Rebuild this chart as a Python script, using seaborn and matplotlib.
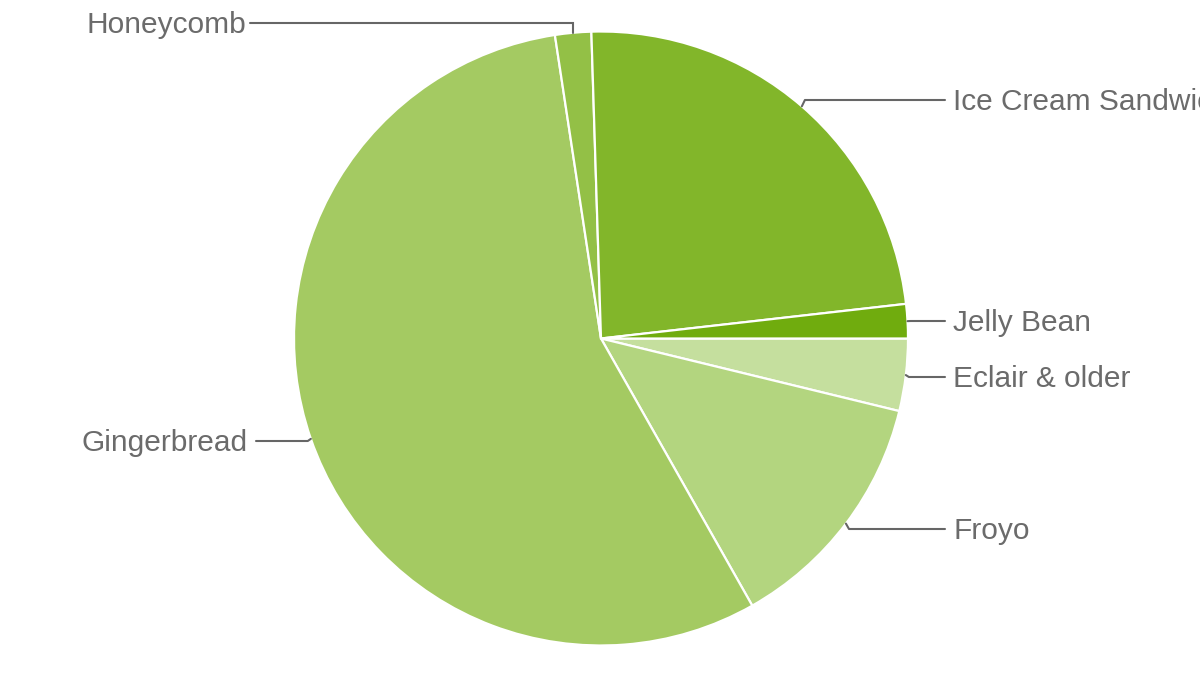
import matplotlib
matplotlib.use("Agg")
import matplotlib.pyplot as plt
import seaborn as sns
import numpy as np

# Android platform versions (share of devices, %)
versions = ["Eclair & older", "Froyo", "Gingerbread", "Honeycomb",
            "Ice Cream Sandwich", "Jelly Bean"]
shares = [3.8, 13.0, 55.8, 1.9, 23.7, 1.8]
colors = ["#c5df9e", "#b3d57f", "#a4ca62", "#93c046", "#82b62a", "#70ac0e"]

sns.set_style("white")
plt.rcParams["font.family"] = ["Liberation Sans", "DejaVu Sans"]

W, H = 1200, 674
cx, cy, R = 601, 338.5, 307   # pie centre and radius in pixels

fig = plt.figure(figsize=(W / 100, H / 100), dpi=100)
ax = fig.add_axes([0, 0, 1, 1])

wedges, _ = ax.pie(shares, colors=colors, startangle=0, counterclock=False,
                   wedgeprops=dict(edgecolor="white", linewidth=1.6))
ax.set_xlim(-cx / R, (W - cx) / R)
ax.set_ylim(-(H - cy) / R, cy / R)
ax.axis("off")


def to_data(px, py):
    return (px - cx) / R, (cy - py) / R


line_col = "#666666"
text_col = "#6b6b6b"
fs = 21.5
dy_txt = 2 / R   # text sits a touch below its leader line

# label y (pixels) for each wedge
label_y = {"Eclair & older": 377, "Froyo": 529, "Gingerbread": 441,
           "Honeycomb": 23, "Ice Cream Sandwich": 100, "Jelly Bean": 321}

for w, name in zip(wedges, versions):
    mid = np.deg2rad((w.theta1 + w.theta2) / 2)
    ex, ey = np.cos(mid), np.sin(mid)          # point on the rim
    ly = (cy - label_y[name]) / R
    if name == "Honeycomb":
        x1, _ = to_data(250, 0)
        ax.plot([ex, ex, x1], [ey, ly, ly], color=line_col, lw=1.5,
                solid_joinstyle="miter")
        ax.text(to_data(246, 0)[0], ly - dy_txt, name, ha="right", va="center",
                fontsize=fs, color=text_col)
    elif ex < 0:
        x1, _ = to_data(256, 0)
        ax.plot([ex, ex - 0.01, x1], [ey, ly, ly], color=line_col, lw=1.5)
        ax.text(to_data(248, 0)[0], ly - dy_txt, name, ha="right", va="center",
                fontsize=fs, color=text_col)
    else:
        x1, _ = to_data(945, 0)
        ax.plot([ex, ex + 0.01, x1], [ey, ly, ly], color=line_col, lw=1.5)
        ax.text(to_data(953, 0)[0], ly - dy_txt, name, ha="left", va="center",
                fontsize=fs, color=text_col)

fig.savefig("out.png", dpi=100)
